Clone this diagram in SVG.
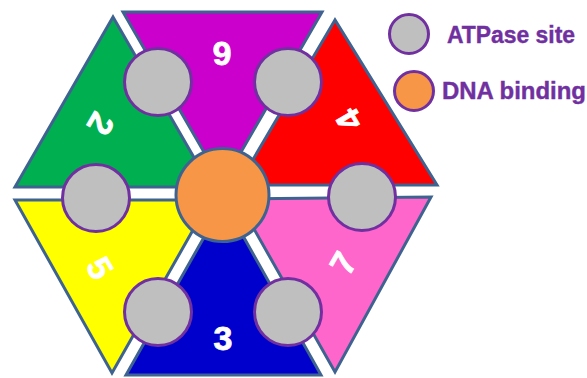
<svg xmlns="http://www.w3.org/2000/svg" width="587" height="378" viewBox="0 0 587 378">
<style>
.tri{stroke:#3F6390;stroke-width:3;stroke-linejoin:miter}
.site{fill:#BFBFBF;stroke:#7030A0;stroke-width:3}
.num{fill:#FFFFFF;stroke:#FFFFFF;stroke-width:0.8;font-family:"Liberation Sans",Arial,sans-serif;font-weight:bold;font-size:34px;text-anchor:middle}
.leg{fill:#7030A0;stroke:#7030A0;stroke-width:0.4;font-family:"Liberation Sans",Arial,sans-serif;font-weight:bold;font-size:24px}
</style>
<rect width="587" height="378" fill="#FFFFFF"/>
<g id="sub6"><polygon class="tri" fill="#CC00CC" points="123,12 322,12 222.5,184"/><text class="num" transform="translate(222,54) rotate(180)" y="12">6</text></g>
<g id="sub2"><polygon class="tri" fill="#00B050" points="113,17 15,187 211,187"/><text class="num" transform="translate(101,124) rotate(120)" y="12">2</text></g>
<g id="sub4"><polygon class="tri" fill="#FF0000" points="335,20 238,185 437,185"/><text class="num" transform="translate(349,120) rotate(-120)" y="12">4</text></g>
<g id="sub5"><polygon class="tri" fill="#FFFF00" points="15,200 210,200 112,373"/><text class="num" transform="translate(100,268) rotate(60)" y="12">5</text></g>
<g id="sub3"><polygon class="tri" fill="#0000CC" points="224,202 126,375 321,375"/><text class="num" transform="translate(223,338)" y="12">3</text></g>
<g id="sub7"><polygon class="tri" fill="#FF66CC" points="237,199 431,197 335,372"/><text class="num" transform="translate(343,263) rotate(-60)" y="12">7</text></g>
<g id="dna"><circle cx="222.5" cy="195" r="46.5" fill="#F79646" stroke="#3F6390" stroke-width="3"/></g>
<g id="sites">
<circle class="site" cx="158" cy="82" r="33.5"/>
<circle class="site" cx="288" cy="82" r="33.5"/>
<circle class="site" cx="96" cy="198" r="33.5"/>
<circle class="site" cx="362" cy="197" r="33.5"/>
<circle class="site" cx="158" cy="312" r="33.5"/>
<circle class="site" cx="288" cy="312" r="33.5"/>
</g>
<g id="legend-atpase"><circle class="site" cx="409" cy="34" r="19.5"/><text class="leg" x="447" y="43" textLength="128" lengthAdjust="spacingAndGlyphs">ATPase site</text></g>
<g id="legend-dna"><circle cx="414" cy="91" r="19.5" fill="#F79646" stroke="#7030A0" stroke-width="3"/><text class="leg" x="442" y="99" textLength="144" lengthAdjust="spacingAndGlyphs">DNA binding</text></g>
<g id="connectors"></g>
</svg>
